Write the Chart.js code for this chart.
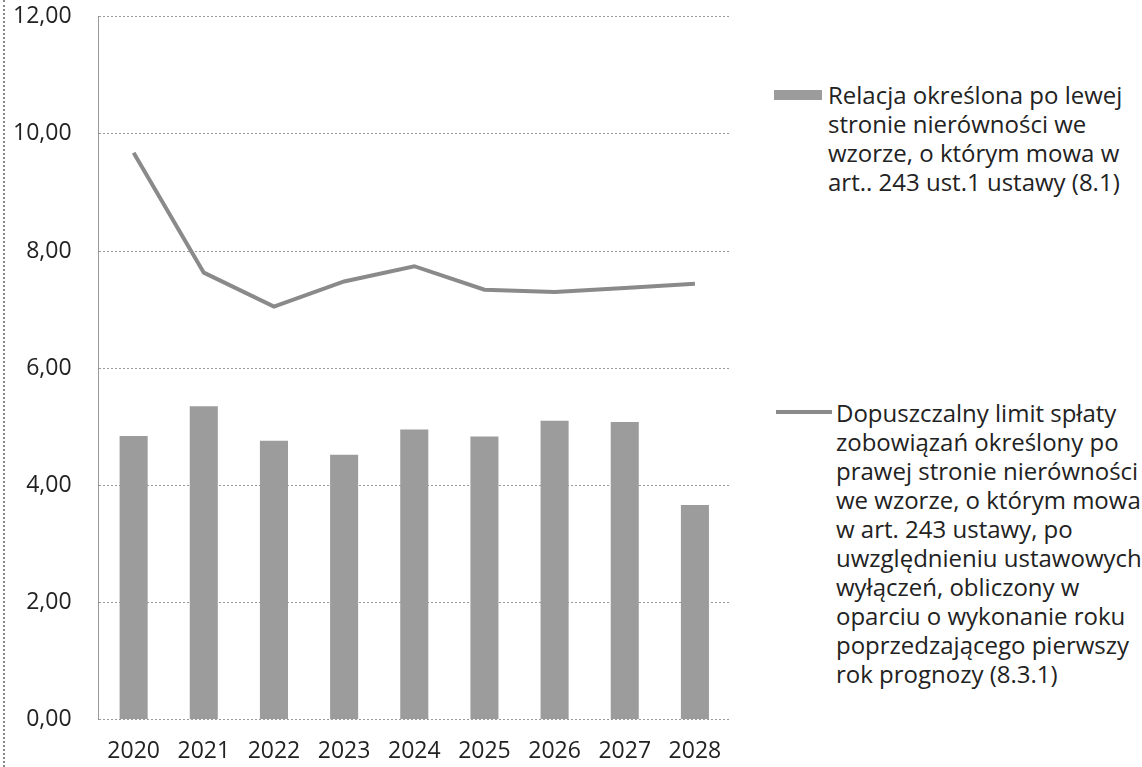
<!DOCTYPE html>
<html>
<head>
<meta charset="utf-8">
<script src="https://cdn.jsdelivr.net/npm/chart.js@4"></script>
<style>
  body { margin: 0; background: #fff; font-family: "Open Sans", sans-serif; }
  #wrap { position: relative; width: 1142px; height: 767px; overflow: hidden; }
  #edge { position: absolute; left: 3px; top: 0; width: 0; height: 767px; border-left: 2px dotted #888; }
  #box { position: absolute; left: 0; top: -24px; width: 740px; height: 791px; }
  .leg { position: absolute; font-size: 24px; line-height: 29px; color: #222; }
  .sym { position: absolute; }
</style>
</head>
<body>
<div id="wrap">
  <div id="edge"></div>
  <div id="box"><canvas id="chart"></canvas></div>

  <div class="sym" style="left:774px; top:90px; width:48px; height:10px; background:#9c9c9c;"></div>
  <div class="leg" style="left:828px; top:80px;">
    Relacja określona po lewej<br>stronie nierówności we<br>wzorze, o którym mowa w<br>art.. 243 ust.1 ustawy (8.1)
  </div>

  <div class="sym" style="left:776px; top:410px; width:56px; height:4px; background:#8a8a8a;"></div>
  <div class="leg" style="left:836px; top:398px;">
    Dopuszczalny limit spłaty<br>zobowiązań określony po<br>prawej stronie nierówności<br>we wzorze, o którym mowa<br>w art. 243 ustawy, po<br>uwzględnieniu ustawowych<br>wyłączeń, obliczony w<br>oparciu o wykonanie roku<br>poprzedzającego pierwszy<br>rok prognozy (8.3.1)
  </div>
</div>

<script>
// --- Data ---
const years = ['2020', '2021', '2022', '2023', '2024', '2025', '2026', '2027', '2028'];
const relacjaLewa = [4.84, 5.35, 4.76, 4.52, 4.95, 4.83, 5.10, 5.08, 3.66];
const limitPrawa = [9.68, 7.63, 7.05, 7.48, 7.74, 7.34, 7.30, 7.37, 7.44];
const yTicks = [0, 2, 4, 6, 8, 10, 12];

const labelBar = 'Relacja określona po lewej stronie nierówności we wzorze, o którym mowa w art.. 243 ust.1 ustawy (8.1)';
const labelLine = 'Dopuszczalny limit spłaty zobowiązań określony po prawej stronie nierówności we wzorze, o którym mowa w art. 243 ustawy, po uwzględnieniu ustawowych wyłączeń, obliczony w oparciu o wykonanie roku poprzedzającego pierwszy rok prognozy (8.3.1)';

Chart.defaults.font.family = '"Open Sans", sans-serif';
Chart.defaults.color = '#222';

const ctx = document.getElementById('chart').getContext('2d');
new Chart(ctx, {
    data: {
        labels: years,
        datasets: [
            {
                type: 'line',
                label: labelLine,
                data: limitPrawa,
                borderColor: '#8a8a8a',
                borderWidth: 4,
                pointRadius: 0,
                tension: 0,
                order: 0
            },
            {
                type: 'bar',
                label: labelBar,
                data: relacjaLewa,
                backgroundColor: '#9c9c9c',
                categoryPercentage: 1,
                barPercentage: 0.4,
                order: 1
            }
        ]
    },
    options: {
        responsive: true,
        maintainAspectRatio: false,
        animation: false,
        layout: { padding: { left: -14, right: 10, top: -18, bottom: -8 } },
        plugins: {
            legend: { display: false },
            tooltip: { enabled: false }
        },
        scales: {
            x: {
                offset: true,
                grid: { display: false },
                border: { display: false },
                ticks: { font: { size: 23 }, padding: 10, maxRotation: 0 }
            },
            y: {
                min: 0,
                max: 12,
                afterBuildTicks: axis => { axis.ticks = yTicks.map(v => ({ value: v })); },
                grid: { color: '#999', lineWidth: 1, drawTicks: false },
                border: { display: true, color: '#999', dash: [2, 2] },
                ticks: {
                    font: { size: 23 },
                    padding: 27,
                    callback: v => v.toFixed(2).replace('.', ',')
                }
            }
        }
    }
});
</script>
</body>
</html>
